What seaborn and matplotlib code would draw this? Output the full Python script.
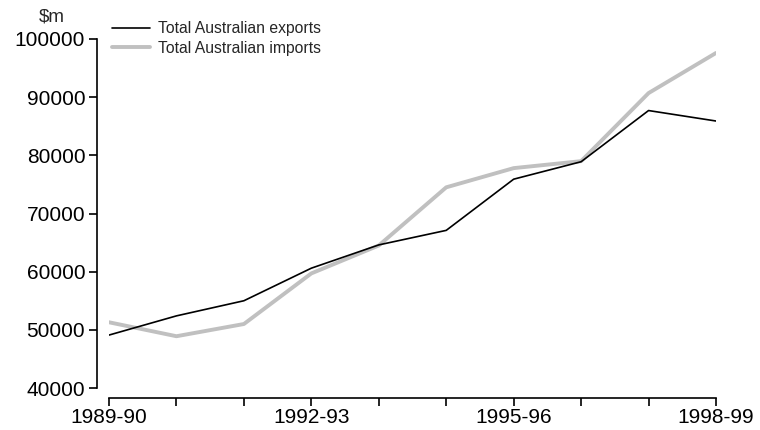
import matplotlib
matplotlib.use("Agg")
import matplotlib.pyplot as plt
import numpy as np
import pandas as pd
import seaborn as sns
from matplotlib.lines import Line2D

years = ["1989-90", "1990-91", "1991-92", "1992-93", "1993-94",
         "1994-95", "1995-96", "1996-97", "1997-98", "1998-99"]
exports = [49100, 52400, 55000, 60600, 64600, 67100, 75900, 78900, 87700, 85900]
imports = [51300, 48900, 51000, 59700, 64500, 74500, 77800, 79000, 90700, 97600]
tick_labels = ["1989-90", "1992-93", "1995-96", "1998-99"]
series_names = ["Total Australian exports", "Total Australian imports"]

df = pd.DataFrame({
    "idx": list(range(len(years))) * 2,
    "value": exports + imports,
    "series": [series_names[0]] * len(years) + [series_names[1]] * len(years),
})

sns.set_style("white")
plt.rcParams["font.family"] = ["Liberation Sans", "DejaVu Sans"]

fig = plt.figure(figsize=(7.6, 4.3), dpi=100)
ax = fig.add_axes([109 / 760, 1 - 388 / 430, (716 - 109) / 760, (388 - 39) / 430])

sns.lineplot(data=df, x="idx", y="value", hue="series",
             palette=["black", "#c0c0c0"], ax=ax, legend=False)
ax.lines[0].set_linewidth(1.2)
ax.lines[1].set_linewidth(2.8)
ax.lines[1].set_zorder(1)

ax.set_xlim(0, len(years) - 1)
ax.set_ylim(40000, 100000)
ax.set_xticks(range(len(years)))
ax.set_xticklabels([y if y in tick_labels else "" for y in years])
ax.set_yticks(np.arange(40000, 100001, 10000))
ax.set_xlabel("")
ax.set_ylabel("")

for s in ["top", "right"]:
    ax.spines[s].set_visible(False)
ax.spines["left"].set_position(("outward", 8.6))
ax.spines["bottom"].set_position(("outward", 7.2))
for s in ["left", "bottom"]:
    ax.spines[s].set_color("black")
    ax.spines[s].set_linewidth(1.2)
ax.tick_params(axis="both", direction="out", length=5.5, width=1.2, color="black",
               labelsize=15, labelcolor="black", left=True, bottom=True)
ax.tick_params(axis="x", pad=2)
ax.tick_params(axis="y", pad=3)

fig.text(52 / 760, 1 - 17 / 430, "$m", fontsize=13.5, ha="center", va="center")

handles = [Line2D([], [], color="black", lw=1.2), Line2D([], [], color="#c0c0c0", lw=2.8)]
ax.legend(handles, series_names,
          loc="upper left", bbox_to_anchor=(112 / 760, 1 - 21 / 430),
          bbox_transform=fig.transFigure, frameon=False, fontsize=11.3,
          handlelength=2.4, handletextpad=0.5, labelspacing=0.3, borderpad=0, borderaxespad=0)

fig.savefig("out.png", dpi=100)
